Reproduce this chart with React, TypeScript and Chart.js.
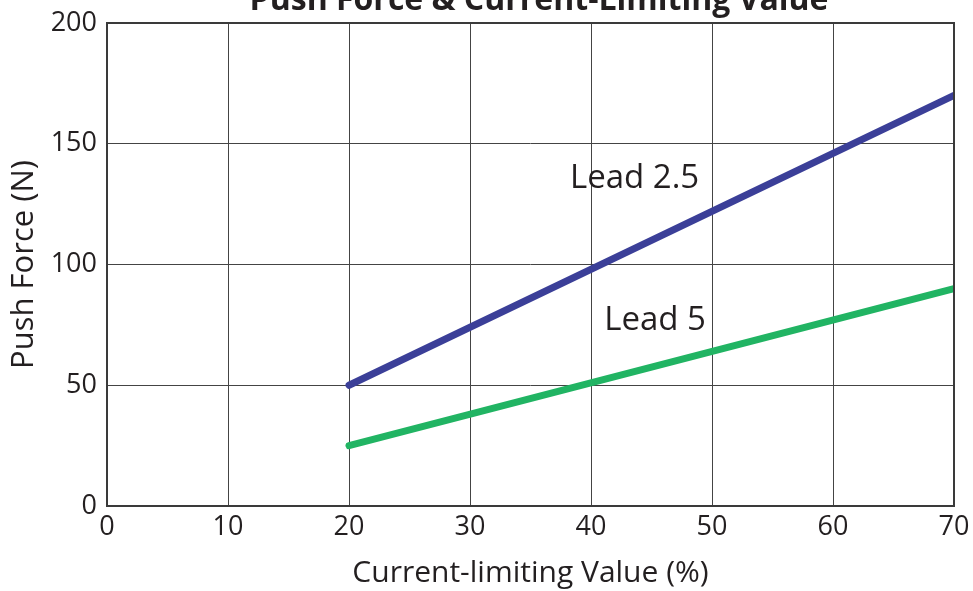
import React, { useEffect, useRef } from "react";
import { Chart, registerables } from "chart.js";

Chart.register(...registerables);

const seriesNames = ["Lead 2.5", "Lead 5"];
const xValues = [20, 70];
const lead25 = [50, 170];
const lead5 = [25, 90];
const xTicks = [0, 10, 20, 30, 40, 50, 60, 70];
const yTicks = [0, 50, 100, 150, 200];
const titleText = "Push Force & Current-Limiting Value";
const xTitle = "Current-limiting Value (%)";
const yTitle = "Push Force (N)";
// label anchors in data units (centre x, baseline y)
const labelAnchors = [
  { x: 43.6, y: 131.7 },
  { x: 45.3, y: 72.8 },
];

const FONT = "'Open Sans', 'Noto Sans', sans-serif";
const TEXT = "#231f20";

export default function App() {
  const ref = useRef<HTMLCanvasElement | null>(null);
  useEffect(() => {
    if (!ref.current) return;
    const overlay = {
      id: "overlay",
      afterDraw(chart: any) {
        const ctx = chart.ctx;
        const { left, right, top, bottom } = chart.chartArea;
        const xs = chart.scales.x;
        const ys = chart.scales.y;
        ctx.save();
        ctx.strokeStyle = "#3a3a3a";
        ctx.lineWidth = 2;
        ctx.strokeRect(left, top, right - left, bottom - top);
        ctx.fillStyle = TEXT;
        ctx.textAlign = "center";
        ctx.textBaseline = "alphabetic";
        ctx.font = `bold 32px ${FONT}`;
        ctx.fillText(titleText, 539, 10);
        ctx.font = `33px ${FONT}`;
        seriesNames.forEach((n, i) => {
          const a = labelAnchors[i];
          ctx.fillText(n, xs.getPixelForValue(a.x), ys.getPixelForValue(a.y));
        });
        ctx.restore();
      },
    };
    const chart = new Chart(ref.current, {
      type: "line",
      data: {
        datasets: [
          {
            label: seriesNames[0],
            data: xValues.map((x, i) => ({ x, y: lead25[i] })),
            borderColor: "#3b3f98",
            borderWidth: 7,
            borderCapStyle: "round",
            pointRadius: 0,
          },
          {
            label: seriesNames[1],
            data: xValues.map((x, i) => ({ x, y: lead5[i] })),
            borderColor: "#21b463",
            borderWidth: 7,
            borderCapStyle: "round",
            pointRadius: 0,
          },
        ],
      },
      options: {
        responsive: false,
        animation: false,
        layout: { padding: { top: 23, right: 19, left: 0, bottom: 0 } },
        plugins: { legend: { display: false }, tooltip: { enabled: false }, title: { display: false } },
        scales: {
          x: {
            type: "linear",
            min: 0,
            max: 70,
            afterBuildTicks: (s: any) => {
              s.ticks = xTicks.map((v) => ({ value: v }));
            },
            afterFit: (s: any) => {
              s.height = 85;
              s.paddingLeft = 0;
              s.paddingRight = 0;
            },
            grid: { color: "#444", lineWidth: 1, drawTicks: false },
            border: { display: false },
            ticks: { color: TEXT, font: { family: FONT, size: 27 }, padding: 5, maxRotation: 0 },
            title: { display: true, text: xTitle, color: TEXT, font: { family: FONT, size: 30 }, padding: { top: 2, bottom: 0 } },
          },
          y: {
            type: "linear",
            min: 0,
            max: 200,
            afterBuildTicks: (s: any) => {
              s.ticks = yTicks.map((v) => ({ value: v }));
            },
            afterFit: (s: any) => {
              s.width = 107;
              s.paddingTop = 0;
              s.paddingBottom = 0;
            },
            grid: { color: "#444", lineWidth: 1, drawTicks: false },
            border: { display: false },
            ticks: { color: TEXT, font: { family: FONT, size: 27 }, padding: 10 },
            title: { display: true, text: yTitle, color: TEXT, font: { family: FONT, size: 31 }, padding: { top: 6, bottom: 0 } },
          },
        },
      },
      plugins: [overlay],
    } as any);
    return () => chart.destroy();
  }, []);
  return (
    <div style={{ position: "absolute", left: 0, top: 0, width: 973, height: 591, background: "#fff" }}>
      <canvas ref={ref} width={973} height={591} style={{ width: 973, height: 591, display: "block" }} />
    </div>
  );
}
